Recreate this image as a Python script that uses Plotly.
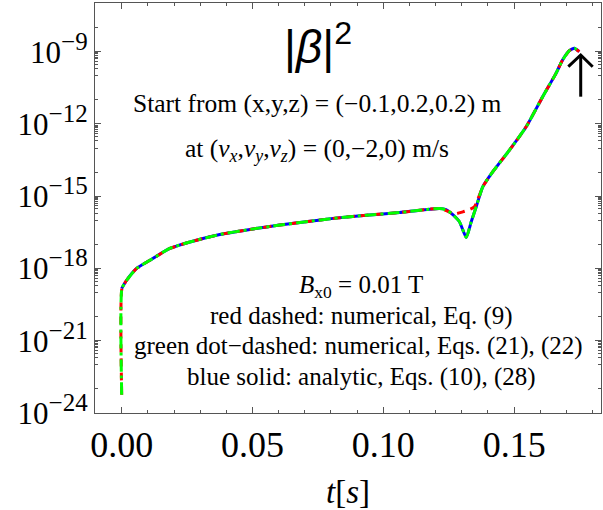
import plotly.graph_objects as go

# time axis (s)
t_main = [0.0000, 0.0019, 0.0057, 0.0108, 0.0184, 0.0261, 0.0375, 0.0490, 0.0604, 0.0712,
          0.0808, 0.0935, 0.1062, 0.1139, 0.1215, 0.1240, 0.1260, 0.1291, 0.1317, 0.1336,
          0.1355, 0.1380, 0.1418, 0.1482, 0.1546, 0.1609, 0.1660, 0.1685, 0.1711, 0.1730, 0.1749]

# blue solid: analytic, Eqs. (10), (28)
beta_analytic = [1.48e-19, 3.24e-19, 1.00e-18, 2.19e-18, 6.76e-18, 1.26e-17, 2.57e-17, 4.17e-17, 6.31e-17, 8.91e-17,
                 1.20e-16, 1.62e-16, 2.09e-16, 2.63e-16, 3.09e-16, 2.75e-16, 1.95e-16, 8.71e-17, 1.91e-17, 8.71e-17,
                 3.63e-16, 2.45e-15, 1.02e-14, 8.13e-14, 7.59e-13, 1.35e-11, 1.26e-10, 4.47e-10, 1.10e-09, 1.38e-09, 1.00e-09]

# green dot-dashed: numerical, Eqs. (21), (22)
t_green = [0.0000] + t_main[:]
t_green[1] = 0.0001
beta_green = [5.75e-24] + beta_analytic

# red dashed: numerical, Eq. (9)
t_red = [0.0000, 0.0001, 0.0019, 0.0057, 0.0108, 0.0184, 0.0261, 0.0375, 0.0490, 0.0604, 0.0712,
         0.0808, 0.0935, 0.1062, 0.1139, 0.1215, 0.1240, 0.1272, 0.1304, 0.1323, 0.1348,
         0.1380, 0.1418, 0.1482, 0.1546, 0.1609, 0.1660, 0.1685, 0.1711, 0.1730, 0.1749]
beta_red = [5.75e-24, 1.48e-19, 3.24e-19, 1.00e-18, 2.19e-18, 6.76e-18, 1.26e-17, 2.57e-17, 4.17e-17, 6.31e-17, 8.91e-17,
            1.20e-16, 1.62e-16, 2.09e-16, 2.63e-16, 3.09e-16, 2.51e-16, 1.82e-16, 2.24e-16, 2.63e-16, 3.63e-16,
            2.45e-15, 1.02e-14, 8.13e-14, 7.59e-13, 1.35e-11, 1.26e-10, 4.47e-10, 1.10e-09, 1.38e-09, 1.00e-09]

x_tickvals = [0.00, 0.05, 0.10, 0.15]
x_ticktext = ["0.00", "0.05", "0.10", "0.15"]
y_exponents = [-24, -21, -18, -15, -12, -9]

SERIF = "Liberation Serif"

fig = go.Figure()
fig.add_trace(go.Scatter(x=t_main, y=beta_analytic, mode="lines",
                         line=dict(color="rgb(0,0,255)", width=3, shape="spline", smoothing=0.5), name="analytic"))
fig.add_trace(go.Scatter(x=t_red, y=beta_red, mode="lines",
                         line=dict(color="rgb(255,0,0)", width=3, dash="8px,6px", shape="spline", smoothing=0.5),
                         name="Eq. 9"))
fig.add_trace(go.Scatter(x=t_green, y=beta_green, mode="lines",
                         line=dict(color="rgb(0,255,0)", width=3, dash="12px,4px,3px,4px", shape="spline", smoothing=0.5),
                         name="Eqs. 21-22"))

y_tickvals = [10.0 ** e for e in y_exponents]
y_ticktext = ["10<sup><span style='font-size:25px'>\u2212%d</span></sup>" % (-e) for e in y_exponents]
minor_vals = []
for e in y_exponents + [-6]:
    for k in range(2, 10):
        minor_vals.append(k * 10.0 ** (e - 1))
    minor_vals.append(10.0 ** (e - 1))
    minor_vals.append(10.0 ** (e - 2))

fig.update_layout(
    width=603, height=510,
    margin=dict(l=95, r=2, t=3, b=97),
    paper_bgcolor="white", plot_bgcolor="white",
    showlegend=False,
    font=dict(family=SERIF, color="black"),
    xaxis=dict(range=[-0.0102, 0.1832], tickvals=x_tickvals, ticktext=x_ticktext, automargin=False,
               ticks="inside", ticklen=6, tickwidth=1, tickcolor="#555",
               showline=True, linecolor="#555", linewidth=1.3, mirror="ticks",
               showgrid=False, zeroline=False,
               tickfont=dict(family=SERIF, size=36),
               minor=dict(dtick=0.01, tick0=0, ticks="inside", ticklen=3, tickcolor="#555", showgrid=False),
               title=dict(text="<i>t</i>[<i>s</i>]", font=dict(family=SERIF, size=33), standoff=16)),
    yaxis=dict(type="log", range=[-24, -6.98], tickvals=y_tickvals, ticktext=y_ticktext, automargin=False,
               ticks="inside", ticklen=6, tickwidth=1, tickcolor="#555",
               showline=True, linecolor="#555", linewidth=1.3, mirror="ticks",
               showgrid=False, zeroline=False,
               tickfont=dict(family=SERIF, size=31),
               minor=dict(tickvals=minor_vals, ticks="inside", ticklen=3, tickcolor="#555", showgrid=False)),
)

def txt(text, x, y, size, family=SERIF):
    fig.add_annotation(text=text, x=x, y=y, xref="paper", yref="paper",
                       xanchor="center", yanchor="middle", showarrow=False,
                       font=dict(family=family, size=size, color="black"))

txt("|<i>\u03b2</i>|<sup>2</sup>", 0.4400, 0.9000, 46, "Liberation Sans")
txt("Start from (x,y,z) = (\u22120.1,0.2,0.2) m", 0.4397, 0.7537, 25.5)
txt("at (<i>v</i><sub><i>x</i></sub>,<i>v</i><sub><i>y</i></sub>,<i>v</i><sub><i>z</i></sub>) = (0,\u22122,0) m/s", 0.4397, 0.6415, 25.5)
txt("<i>B</i><sub>x0</sub> = 0.01 T", 0.5257, 0.3090, 25)
txt("red dashed: numerical, Eq. (9)", 0.5267, 0.2370, 25)
txt("green dot\u2212dashed: numerical, Eqs. (21), (22)", 0.5217, 0.1630, 25)
txt("blue solid: analytic, Eqs. (10), (28)", 0.5257, 0.0890, 25)

# arrow marking the maximum
fig.add_shape(type="line", xref="paper", yref="paper", x0=0.9599, y0=0.7715, x1=0.9599, y1=0.8732,
              line=dict(color="black", width=3))
fig.add_shape(type="path", xref="paper", yref="paper",
              path="M 0.9354 0.8446 L 0.9599 0.8732 L 0.9836 0.8446",
              line=dict(color="black", width=3))

fig.write_html("out.html", config={"displayModeBar": False},
               post_script="document.body.style.margin='0px';")
